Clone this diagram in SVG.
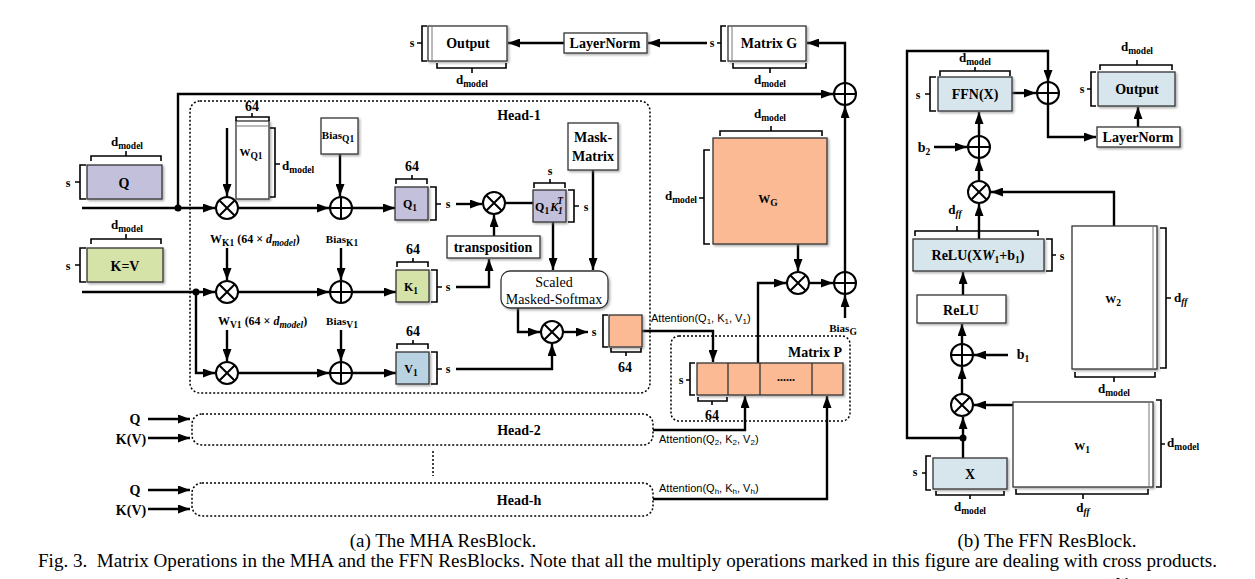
<svg xmlns="http://www.w3.org/2000/svg" width="1255" height="579" viewBox="0 0 1255 579">
<defs>
<style>
.b{font-family:"Liberation Serif","DejaVu Serif",serif;font-weight:bold;font-size:14px;text-anchor:middle;fill:#000}
.s{font-size:12px}
.m{font-size:13px}
.xs{font-size:11px}
.st{text-anchor:start}
.en{text-anchor:end}
.sub{font-size:9.5px}
.r{font-weight:normal}
.it{font-style:italic}
.a{font-family:"Liberation Sans","DejaVu Sans",sans-serif;font-weight:normal;font-size:11px;text-anchor:start;fill:#000}
.cap{font-family:"Liberation Serif","DejaVu Serif",serif;font-size:19px;text-anchor:middle;fill:#000}
.ln{stroke:#000;stroke-width:2.4;fill:none}
.ar{marker-end:url(#ah)}
.br{stroke:#000;stroke-width:1.6;fill:none}
.box{stroke:#333;stroke-width:1.3;filter:url(#sh)}
.dot{stroke:#000;stroke-width:1.5;stroke-dasharray:2 2;fill:none}
.lav{fill:#C3C0DB}.grn{fill:#D5E3A9}.blu{fill:#B9D3E3}.org{fill:#FBB994}.lb{fill:#D7E5ED}.wh{fill:#fff}
</style>
<marker id="ah" viewBox="0 0 12 9" refX="12" refY="4.5" markerWidth="12" markerHeight="9" markerUnits="userSpaceOnUse" orient="auto"><path d="M0,0 L12,4.5 L0,9 z" fill="#000"/></marker>
<filter id="sh" x="-10%" y="-10%" width="130%" height="130%"><feDropShadow dx="1.5" dy="1.5" stdDeviation="0.8" flood-color="#777" flood-opacity="0.6"/></filter>
<g id="mul"><circle r="11" fill="#fff" stroke="#000" stroke-width="2"/><path d="M-7.8,-7.8 L7.8,7.8 M-7.8,7.8 L7.8,-7.8" stroke="#000" stroke-width="2"/></g>
<g id="add"><circle r="11" fill="#fff" stroke="#000" stroke-width="2"/><path d="M-11,0 H11 M0,-11 V11" stroke="#000" stroke-width="2"/></g>
</defs>
<rect width="1255" height="579" fill="#fff"/>

<g id="connectors">
<line class="ln ar" x1="564" y1="43" x2="508" y2="43"/>
<line class="ln ar" x1="707" y1="43" x2="648" y2="43"/>
<polyline class="ln ar" points="845,83 845,43 807,43"/>
<polyline class="ln ar" points="178,208 178,94 833,94"/>
<line class="ln ar" x1="82" y1="208" x2="215" y2="208"/>
<line class="ln ar" x1="227" y1="128" x2="227" y2="196"/>
<line class="ln ar" x1="238" y1="208" x2="329" y2="208"/>
<line class="ln ar" x1="340" y1="154" x2="340" y2="196"/>
<line class="ln ar" x1="352" y1="208" x2="395" y2="208"/>
<line class="ln ar" x1="456" y1="204" x2="482" y2="204"/>
<line class="ln" x1="505" y1="203" x2="533" y2="203"/>
<line class="ln ar" x1="494" y1="236" x2="494" y2="215"/>
<line class="ln ar" x1="593" y1="170" x2="593" y2="270"/>
<line class="ln ar" x1="553" y1="222" x2="553" y2="270"/>
<line class="ln ar" x1="82" y1="292" x2="215" y2="292"/>
<polyline class="ln ar" points="196,292 196,373 215,373"/>
<line class="ln ar" x1="227" y1="248" x2="227" y2="280"/>
<line class="ln ar" x1="238" y1="292" x2="329" y2="292"/>
<line class="ln ar" x1="341" y1="248" x2="341" y2="280"/>
<line class="ln ar" x1="352" y1="292" x2="396" y2="292"/>
<polyline class="ln ar" points="456,287 489,287 489,259"/>
<line class="ln ar" x1="227" y1="330" x2="227" y2="361"/>
<line class="ln ar" x1="238" y1="373" x2="329" y2="373"/>
<line class="ln ar" x1="341" y1="330" x2="341" y2="361"/>
<line class="ln ar" x1="352" y1="373" x2="396" y2="373"/>
<polyline class="ln ar" points="456,369 552,369 552,344"/>
<polyline class="ln ar" points="518,308 518,332 540,332"/>
<line class="ln ar" x1="564" y1="332" x2="588" y2="332"/>
<polyline class="ln ar" points="642,331 713,331 713,362"/>
<polyline class="ln ar" points="758,363 758,283 786,283"/>
<line class="ln ar" x1="798" y1="244" x2="798" y2="271"/>
<line class="ln ar" x1="810" y1="283" x2="833" y2="283"/>
<line class="ln ar" x1="845" y1="272" x2="845" y2="106"/>
<line class="ln ar" x1="845" y1="318" x2="845" y2="295"/>
<line class="ln ar" x1="148" y1="419" x2="190" y2="419"/>
<line class="ln ar" x1="148" y1="438" x2="190" y2="438"/>
<line class="ln ar" x1="148" y1="490" x2="190" y2="490"/>
<line class="ln ar" x1="148" y1="509" x2="190" y2="509"/>
<polyline class="ln ar" points="653,430 745,430 745,396"/>
<polyline class="ln ar" points="653,499 827,499 827,396"/>
<line class="dot" x1="433" y1="451" x2="433" y2="476"/>
<polyline class="ln ar" points="963,438 907,438 907,51 1048,51 1048,82"/>
<line class="ln ar" x1="1012" y1="93" x2="1036" y2="93"/>
<polyline class="ln ar" points="1048,104 1048,137 1096,137"/>
<line class="ln ar" x1="1138" y1="127" x2="1138" y2="107"/>
<line class="ln ar" x1="934" y1="147" x2="967" y2="147"/>
<line class="ln ar" x1="979" y1="136" x2="979" y2="112"/>
<line class="ln ar" x1="979" y1="181" x2="979" y2="159"/>
<polyline class="ln ar" points="1114,226 1114,192 991,192"/>
<line class="ln ar" x1="979" y1="239" x2="979" y2="204"/>
<line class="ln ar" x1="963" y1="295" x2="963" y2="272"/>
<line class="ln ar" x1="1008" y1="355" x2="974" y2="355"/>
<line class="ln ar" x1="962" y1="344" x2="962" y2="324"/>
<line class="ln ar" x1="962" y1="394" x2="962" y2="367"/>
<line class="ln ar" x1="1013" y1="405" x2="974" y2="405"/>
<line class="ln ar" x1="963" y1="458" x2="963" y2="417"/>
<circle cx="178" cy="208" r="3.5"/>
<circle cx="196" cy="292" r="3.5"/>
<circle cx="963" cy="438" r="3.5"/>
</g>

<g id="ops">
<use href="#mul" x="227" y="208"/><use href="#add" x="341" y="208"/>
<use href="#mul" x="227" y="292"/><use href="#add" x="341" y="292"/>
<use href="#mul" x="227" y="373"/><use href="#add" x="341" y="373"/>
<use href="#mul" x="494" y="203"/>
<use href="#mul" x="552" y="332"/>
<use href="#mul" x="798" y="283"/>
<use href="#add" x="845" y="283"/>
<use href="#add" x="845" y="94"/>
<use href="#add" x="1048" y="93"/>
<use href="#add" x="979" y="147"/>
<use href="#mul" x="979" y="192"/>
<use href="#add" x="962" y="355"/>
<use href="#mul" x="962" y="405"/>
</g>

<g id="mha-output">
<rect class="box wh" x="428" y="26" width="79" height="35"/>
<line x1="432" y1="26" x2="432" y2="61" stroke="#777" stroke-width="1"/>
<text class="b" x="468" y="48">Output</text>
<path class="br" d="M427,26 H422 V61 H427 M422,43 H417"/>
<text class="b s" x="412" y="47">s</text>
<path class="br" d="M437,63 V68 H506 V63 M472,68 V73"/>
<text class="b m" x="472" y="84">d<tspan class="sub" dy="3">model</tspan></text>
</g>
<g id="mha-layernorm">
<rect class="box wh" x="564" y="33" width="83" height="20"/>
<text class="b" x="605" y="48">LayerNorm</text>
</g>
<g id="matrix-g">
<rect class="box wh" x="728" y="26" width="78" height="35"/>
<line x1="732" y1="26" x2="732" y2="61" stroke="#777" stroke-width="1"/>
<text class="b" x="769" y="48">Matrix G</text>
<path class="br" d="M726,26 H721 V61 H726 M721,43 H717"/>
<text class="b s" x="712" y="47">s</text>
<path class="br" d="M733,63 V68 H806 V63 M770,68 V73"/>
<text class="b m" x="770" y="84">d<tspan class="sub" dy="3">model</tspan></text>
</g>

<g id="head-1">
<rect class="dot" x="190" y="101" width="460" height="292" rx="10"/>
<text class="b" x="519" y="120">Head-1</text>
</g>

<g id="input-q">
<text class="b m" x="127" y="146">d<tspan class="sub" dy="3">model</tspan></text>
<path class="br" d="M91,161 V156 H161 V161 M126,156 V151"/>
<rect class="box lav" x="87" y="165" width="75" height="34"/>
<text class="b" x="124" y="188">Q</text>
<path class="br" d="M86,165 H80 V199 H86 M80,182 H75"/>
<text class="b s" x="68" y="187">s</text>
</g>
<g id="w-q1">
<rect class="box wh" x="236" y="121" width="33" height="78"/>
<line x1="236" y1="126" x2="269" y2="126" stroke="#777" stroke-width="1"/>
<text class="b" x="252" y="111">64</text>
<path class="br" d="M236,121 V117 H269 V121 M252,117 V113"/>
<text class="b xs" x="251" y="156">W<tspan class="sub" dy="3">Q1</tspan></text>
<path class="br" d="M270,128 H275 V197 H270 M275,164 H280"/>
<text class="b m st" x="282" y="170">d<tspan class="sub" dy="3">model</tspan></text>
</g>
<g id="bias-q1">
<rect class="box wh" x="321" y="118" width="37" height="36"/>
<text class="b xs" x="338" y="139">Bias<tspan class="sub" dy="3">Q1</tspan></text>
</g>
<g id="q1">
<text class="b" x="412" y="171">64</text>
<path class="br" d="M396,184 V179 H427 V184 M412,179 V175"/>
<rect class="box lav" x="395" y="187" width="33" height="33"/>
<text class="b s" x="410" y="208">Q<tspan class="sub" dy="3">1</tspan></text>
<path class="br" d="M430,187 H436 V220 H430 M436,204 H441"/>
<text class="b s" x="448" y="208">s</text>
</g>
<g id="q1k1t">
<text class="b s" x="550" y="175">s</text>
<path class="br" d="M534,188 V183 H565 V188 M550,183 V179"/>
<rect class="box lav" x="533" y="190" width="33" height="32"/>
<text class="b s" x="549" y="211">Q<tspan class="sub" dy="3">1</tspan><tspan dy="-3" class="it" dx="1">K</tspan><tspan class="sub it" dy="-7" dx="-1">T</tspan><tspan class="sub it" dy="10" dx="-5">1</tspan></text>
<path class="br" d="M568,190 H574 V222 H568 M574,206 H579"/>
<text class="b s" x="586" y="211">s</text>
</g>
<g id="transposition">
<rect class="box wh" x="447" y="236" width="93" height="22"/>
<text class="b" x="493" y="252">transposition</text>
</g>
<g id="mask-matrix">
<rect class="box wh" x="568" y="123" width="50" height="47"/>
<text class="b" x="593" y="142">Mask-</text>
<text class="b" x="593" y="161">Matrix</text>
</g>
<g id="softmax">
<rect class="box wh" x="501" y="271" width="107" height="37" rx="9"/>
<text class="b r" x="554" y="287">Scaled</text>
<text class="b r" x="554" y="304">Masked-Softmax</text>
</g>

<g id="input-kv">
<text class="b m" x="127" y="229">d<tspan class="sub" dy="3">model</tspan></text>
<path class="br" d="M91,244 V239 H161 V244 M126,239 V234"/>
<rect class="box grn" x="87" y="248" width="76" height="34"/>
<text class="b" x="125" y="271">K=V</text>
<path class="br" d="M86,248 H80 V282 H86 M80,265 H75"/>
<text class="b s" x="68" y="270">s</text>
</g>
<g id="k-labels">
<text class="b s st" x="210" y="243">W<tspan class="sub" dy="3">K1</tspan><tspan dy="-3"> (64 × </tspan><tspan class="it">d</tspan><tspan class="sub it" dy="3">model</tspan><tspan dy="-3">)</tspan></text>
<text class="b xs" x="342" y="243">Bias<tspan class="sub" dy="3">K1</tspan></text>
</g>
<g id="k1">
<text class="b" x="413" y="254">64</text>
<path class="br" d="M397,267 V262 H428 V267 M413,262 V258"/>
<rect class="box grn" x="396" y="270" width="33" height="32"/>
<text class="b s" x="411" y="291">K<tspan class="sub" dy="3">1</tspan></text>
<path class="br" d="M431,270 H437 V302 H431 M437,287 H442"/>
<text class="b s" x="448" y="291">s</text>
</g>
<g id="v-labels">
<text class="b s st" x="218" y="325">W<tspan class="sub" dy="3">V1</tspan><tspan dy="-3"> (64 × </tspan><tspan class="it">d</tspan><tspan class="sub it" dy="3">model</tspan><tspan dy="-3">)</tspan></text>
<text class="b xs" x="342" y="325">Bias<tspan class="sub" dy="3">V1</tspan></text>
</g>
<g id="v1">
<text class="b" x="413" y="336">64</text>
<path class="br" d="M397,349 V344 H428 V349 M413,344 V340"/>
<rect class="box blu" x="396" y="352" width="33" height="32"/>
<text class="b s" x="411" y="373">V<tspan class="sub" dy="3">1</tspan></text>
<path class="br" d="M431,352 H437 V384 H431 M437,369 H442"/>
<text class="b s" x="448" y="373">s</text>
</g>
<g id="attention-1">
<text class="b s" x="594" y="336">s</text>
<path class="br" d="M608,315 H603 V347 H608"/>
<rect class="box org" x="609" y="315" width="33" height="32"/>
<path class="br" d="M611,348 V352 H641 V348 M626,352 V356"/>
<text class="b" x="625" y="372">64</text>
<text class="a" x="651" y="322">Attention(Q<tspan font-size="8" dy="2">1</tspan><tspan dy="-2">, K</tspan><tspan font-size="8" dy="2">1</tspan><tspan dy="-2">, V</tspan><tspan font-size="8" dy="2">1</tspan><tspan dy="-2">)</tspan></text>
</g>

<g id="w-g">
<text class="b m" x="770" y="118">d<tspan class="sub" dy="3">model</tspan></text>
<path class="br" d="M720,136 V131 H822 V136 M771,131 V126"/>
<rect class="box org" x="713" y="138" width="114" height="106"/>
<text class="b s" x="768" y="203">W<tspan class="sub" dy="3">G</tspan></text>
<path class="br" d="M710,150 H704 V244 H710 M704,198 H699"/>
<text class="b m en" x="697" y="200">d<tspan class="sub" dy="3">model</tspan></text>
<text class="b xs" x="843" y="332">Bias<tspan class="sub" dy="3">G</tspan></text>
</g>

<g id="matrix-p">
<rect class="dot" x="671" y="336" width="179" height="85" rx="8"/>
<text class="b" x="815" y="357">Matrix P</text>
<rect class="box org" x="697" y="363" width="146" height="32"/>
<path d="M728,363 V395 M760,363 V395 M812,363 V395" stroke="#333" stroke-width="1.3"/>
<text class="b s" x="786" y="381">......</text>
<path class="br" d="M695,363 H690 V395 H695 M690,380 H686"/>
<text class="b s" x="681" y="384">s</text>
<path class="br" d="M698,397 V401 H727 V397 M712,401 V405"/>
<text class="b" x="712" y="420">64</text>
</g>

<g id="head-2">
<rect class="dot" x="192" y="414" width="461" height="31" rx="10"/>
<text class="b" x="519" y="435">Head-2</text>
<text class="b" x="135" y="424">Q</text>
<text class="b" x="131" y="444">K(V)</text>
<text class="a" x="659" y="443">Attention(Q<tspan font-size="8" dy="2">2</tspan><tspan dy="-2">, K</tspan><tspan font-size="8" dy="2">2</tspan><tspan dy="-2">, V</tspan><tspan font-size="8" dy="2">2</tspan><tspan dy="-2">)</tspan></text>
</g>
<g id="head-h">
<rect class="dot" x="192" y="483" width="461" height="33" rx="10"/>
<text class="b" x="519" y="505">Head-h</text>
<text class="b" x="135" y="495">Q</text>
<text class="b" x="131" y="515">K(V)</text>
<text class="a" x="659" y="492">Attention(Q<tspan font-size="8" dy="2">h</tspan><tspan dy="-2">, K</tspan><tspan font-size="8" dy="2">h</tspan><tspan dy="-2">, V</tspan><tspan font-size="8" dy="2">h</tspan><tspan dy="-2">)</tspan></text>
</g>

<g id="ffn-x">
<text class="b m" x="975" y="62">d<tspan class="sub" dy="3">model</tspan></text>
<path class="br" d="M940,76 V71 H1010 V76 M975,71 V67"/>
<rect class="box lb" x="938" y="77" width="74" height="34"/>
<text class="b" x="975" y="99">FFN(X)</text>
<path class="br" d="M936,77 H930 V111 H936 M930,94 H925"/>
<text class="b s" x="918" y="99">s</text>
</g>
<g id="ffn-output">
<text class="b m" x="1137" y="51">d<tspan class="sub" dy="3">model</tspan></text>
<path class="br" d="M1100,70 V65 H1172 V70 M1137,65 V60"/>
<rect class="box lb" x="1098" y="72" width="77" height="34"/>
<text class="b" x="1137" y="94">Output</text>
<path class="br" d="M1096,72 H1091 V106 H1096 M1091,89 H1087"/>
<text class="b s" x="1082" y="93">s</text>
</g>
<g id="ffn-layernorm">
<rect class="box wh" x="1097" y="127" width="83" height="20"/>
<text class="b" x="1138" y="142">LayerNorm</text>
</g>
<g id="b2"><text class="b" x="924" y="152">b<tspan class="sub" dy="3">2</tspan></text></g>
<g id="relu-xw">
<text class="b m" x="955" y="214">d<tspan class="sub it" dy="3">ff</tspan></text>
<path class="br" d="M915,236 V231 H1038 V236 M957,231 V226"/>
<rect class="box lb" x="913" y="239" width="131" height="32"/>
<text class="b" x="978" y="260">ReLU(X<tspan class="it">W</tspan><tspan class="sub" dy="3">1</tspan><tspan dy="-3">+b</tspan><tspan class="sub" dy="3">1</tspan><tspan dy="-3">)</tspan></text>
<path class="br" d="M1046,239 H1052 V271 H1046 M1052,255 H1056"/>
<text class="b s" x="1062" y="260">s</text>
</g>
<g id="w2">
<rect class="box wh" x="1072" y="226" width="85" height="143"/>
<line x1="1153" y1="226" x2="1153" y2="369" stroke="#777" stroke-width="1"/>
<text class="b xs" x="1113" y="303">W<tspan class="sub" dy="3">2</tspan></text>
<path class="br" d="M1160,228 H1166 V368 H1160 M1166,298 H1171"/>
<text class="b m st" x="1174" y="302">d<tspan class="sub it" dy="3">ff</tspan></text>
<path class="br" d="M1075,372 V377 H1155 V372 M1114,377 V382"/>
<text class="b m" x="1114" y="393">d<tspan class="sub" dy="3">model</tspan></text>
</g>
<g id="relu">
<rect class="box wh" x="917" y="295" width="89" height="28"/>
<text class="b" x="961" y="315">ReLU</text>
</g>
<g id="b1"><text class="b" x="1023" y="359">b<tspan class="sub" dy="3">1</tspan></text></g>
<g id="w1">
<rect class="box wh" x="1013" y="402" width="140" height="85"/>
<line x1="1149" y1="402" x2="1149" y2="487" stroke="#777" stroke-width="1"/>
<text class="b xs" x="1082" y="450">W<tspan class="sub" dy="3">1</tspan></text>
<path class="br" d="M1156,400 H1161 V487 H1156 M1161,444 H1165"/>
<text class="b m st" x="1167" y="447">d<tspan class="sub" dy="3">model</tspan></text>
<path class="br" d="M1016,489 V494 H1148 V489 M1083,494 V499"/>
<text class="b m" x="1083" y="512">d<tspan class="sub it" dy="3">ff</tspan></text>
</g>
<g id="x-in">
<rect class="box lb" x="933" y="458" width="74" height="31"/>
<text class="b" x="970" y="479">X</text>
<path class="br" d="M931,456 H926 V490 H931 M926,473 H922"/>
<text class="b s" x="915" y="476">s</text>
<path class="br" d="M936,491 V495 H1004 V491 M970,495 V499"/>
<text class="b m" x="970" y="511">d<tspan class="sub" dy="3">model</tspan></text>
</g>

<g id="captions">
<text class="cap" x="443" y="547">(a) The MHA ResBlock.</text>
<text class="cap" x="1047" y="547">(b) The FFN ResBlock.</text>
<text class="cap" x="38" y="567" style="text-anchor:start" textLength="1179" lengthAdjust="spacingAndGlyphs">Fig. 3.&#160; Matrix Operations in the MHA and the FFN ResBlocks. Note that all the multiply operations marked in this figure are dealing with cross products.</text>
<text class="b s" x="1122" y="586">W</text>
</g>
</svg>
